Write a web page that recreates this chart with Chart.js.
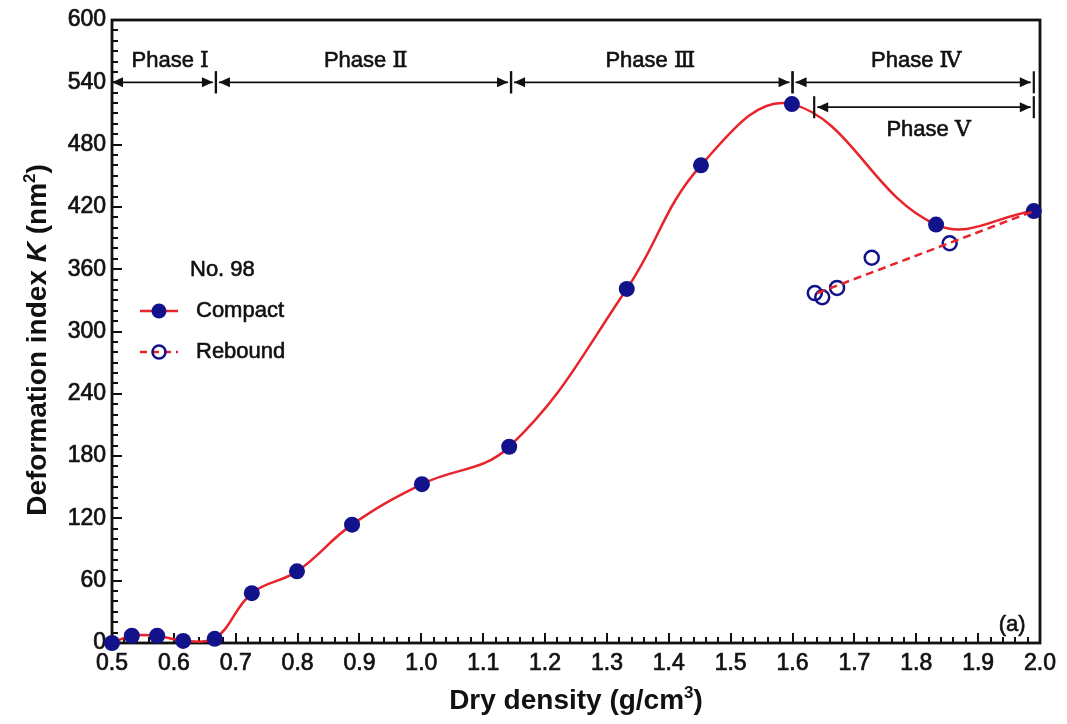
<!DOCTYPE html>
<html>
<head>
<meta charset="utf-8">
<script src="https://cdn.jsdelivr.net/npm/chart.js@4/dist/chart.umd.min.js"></script>
<style>
  html, body { margin:0; padding:0; background:#fff; }
  canvas { display:block; }
</style>
</head>
<body>
<canvas id="chart" width="1067" height="724"></canvas>
<script>
// ------------------- Data -------------------
const densityCompact = [0.50, 0.532, 0.573, 0.615, 0.666, 0.726, 0.799, 0.888, 1.001, 1.142, 1.332, 1.452, 1.599, 1.832, 1.99];
const kCompact       = [0,    7,     7,     2,     4,     48,    69,    114,   153,   189,   341,   460,   519,   403,   416];
const densityRebound = [1.636, 1.648, 1.672, 1.728, 1.854];
const kRebound       = [337,   333,   342,   371,   385];
const densityFit     = [1.64, 1.99];
const kFit           = [337,  416];

const xTicks = [0.5,0.6,0.7,0.8,0.9,1.0,1.1,1.2,1.3,1.4,1.5,1.6,1.7,1.8,1.9,2.0];
const yTicks = [0,60,120,180,240,300,360,420,480,540,600];

const phaseNames = ["Phase \u2160", "Phase \u2161", "Phase \u2162", "Phase \u2163", "Phase \u2164"];
const phaseFrom  = [0.5,  0.668, 1.145, 1.6,  1.635];
const phaseTo    = [0.668, 1.145, 1.6,  1.99, 1.99];
const phaseLevel = [540,  540,   540,   540,  516];

// ------------------- Styles -------------------
const RED = "#e8232b";
const NAVY = "#12128a";
const INK = "#111";
const FONT = "'Liberation Sans', Arial, Helvetica, sans-serif";
const PHASE_FONT = "22px 'Liberation Sans', Arial, 'DejaVu Serif', serif";

const toPts = (xs, ys) => xs.map((x,i)=>({x, y: ys[i]}));

// filled text with a hairline stroke so it reads a little heavier
function heavyText(ctx, t, x, y, w){
  ctx.fillText(t, x, y);
  ctx.lineWidth = w || 0.6;
  ctx.strokeText(t, x, y);
}

// draw a run of text pieces centred on (x,y)
function drawPieces(ctx, pieces, x, y){
  let w = 0;
  pieces.forEach(p=>{ ctx.font = p.font; w += ctx.measureText(p.t).width; });
  let cx = x - w/2;
  pieces.forEach(p=>{
    ctx.font = p.font;
    ctx.fillText(p.t, cx, y + (p.dy||0));
    cx += ctx.measureText(p.t).width;
  });
}

function arrowHead(ctx, x, y, dir){
  // dir = -1 points left, +1 points right; tip at x
  ctx.beginPath();
  ctx.moveTo(x, y);
  ctx.lineTo(x - dir*11, y - 5);
  ctx.lineTo(x - dir*11, y + 5);
  ctx.closePath();
  ctx.fill();
}

const decor = {
  id: "decor",
  beforeDatasetsDraw(chart){
    const {ctx, chartArea:a, scales:{x, y}} = chart;
    ctx.save();
    ctx.strokeStyle = INK;
    // inward ticks
    ctx.lineWidth = 2;
    for(let i=0;i<=75;i++){
      const v = 0.5 + i*0.02;
      const px = Math.round(x.getPixelForValue(v));
      const len = (i%5===0) ? 10 : 6;
      ctx.beginPath(); ctx.moveTo(px, a.bottom); ctx.lineTo(px, a.bottom-len); ctx.stroke();
    }
    for(let i=0;i<=60;i++){
      const v = i*10;
      const py = Math.round(y.getPixelForValue(v));
      const len = (i%6===0) ? 10 : 6;
      ctx.beginPath(); ctx.moveTo(a.left, py); ctx.lineTo(a.left+len, py); ctx.stroke();
    }
    // frame
    ctx.lineWidth = 2.8;
    ctx.strokeRect(a.left, a.top, a.right-a.left, a.bottom-a.top);
    ctx.restore();
  },
  afterDatasetsDraw(chart){
    const {ctx, chartArea:a, scales:{x, y}} = chart;
    ctx.save();
    ctx.fillStyle = INK;
    ctx.strokeStyle = INK;
    ctx.lineWidth = 1.8;

    // phase arrows
    phaseNames.forEach((name,i)=>{
      const x1 = x.getPixelForValue(phaseFrom[i]);
      const x2 = x.getPixelForValue(phaseTo[i]);
      const py = y.getPixelForValue(phaseLevel[i]);
      const g1 = i===0 ? 0 : 3;
      const g2 = 3;
      ctx.lineWidth = 1.8;
      ctx.beginPath(); ctx.moveTo(x1+g1, py); ctx.lineTo(x2-g2, py); ctx.stroke();
      arrowHead(ctx, x1+g1, py, -1);
      arrowHead(ctx, x2-g2, py, 1);
      // end bars
      ctx.lineWidth = 2.2;
      [x1, x2].forEach((bx,k)=>{
        if(i===0 && k===0) return;
        ctx.beginPath(); ctx.moveTo(bx, py-11); ctx.lineTo(bx, py+11); ctx.stroke();
      });
    });

    // phase labels
    ctx.font = PHASE_FONT;
    ctx.textAlign = "center";
    ctx.textBaseline = "middle";
    const lbl = [[0.594,561],[0.91,561],[1.37,561],[1.8,561],[1.82,494]];
    phaseNames.forEach((name,i)=>{
      heavyText(ctx, name, x.getPixelForValue(lbl[i][0]), y.getPixelForValue(lbl[i][1]));
    });

    // panel tag
    ctx.font = "22px " + FONT;
    heavyText(ctx, "(a)", x.getPixelForValue(1.955), y.getPixelForValue(17));

    // legend
    const lx = 140, ly = 270;
    ctx.textAlign = "left";
    heavyText(ctx, "No. 98", 190, ly);
    heavyText(ctx, "Compact", 196, ly+41);
    heavyText(ctx, "Rebound", 196, ly+82);
    ctx.lineWidth = 2.5;
    ctx.strokeStyle = RED;
    ctx.beginPath(); ctx.moveTo(lx, ly+41); ctx.lineTo(lx+38, ly+41); ctx.stroke();
    ctx.setLineDash([7,5]);
    ctx.beginPath(); ctx.moveTo(lx, ly+82); ctx.lineTo(lx+38, ly+82); ctx.stroke();
    ctx.setLineDash([]);
    ctx.fillStyle = NAVY;
    ctx.beginPath(); ctx.arc(lx+19, ly+41, 7.5, 0, Math.PI*2); ctx.fill();
    ctx.strokeStyle = NAVY;
    ctx.beginPath(); ctx.arc(lx+19, ly+82, 6.5, 0, Math.PI*2); ctx.stroke();

    // axis titles
    ctx.fillStyle = INK;
    ctx.textAlign = "left";
    ctx.textBaseline = "alphabetic";
    const tf = "bold 28px " + FONT;
    const sf = "bold 17px " + FONT;
    drawPieces(ctx, [
      {t:"Dry density (g/cm", font:tf},
      {t:"3", font:sf, dy:-11},
      {t:")", font:tf}
    ], (a.left+a.right)/2, 709);

    ctx.translate(46, 340);
    ctx.rotate(-Math.PI/2);
    drawPieces(ctx, [
      {t:"Deformation index ", font:tf},
      {t:"K", font:"italic " + tf},
      {t:" (nm", font:tf},
      {t:"2", font:sf, dy:-11},
      {t:")", font:tf}
    ], 0, 0);
    ctx.restore();
  }
};

const tickFont = { family: FONT, size: 23 };

new Chart(document.getElementById("chart"), {
  type: "scatter",
  data: {
    datasets: [
      {
        label: "Compact fit",
        data: toPts(densityFit, kFit),
        showLine: true,
        borderColor: RED,
        borderWidth: 2.5,
        borderDash: [8,5],
        pointRadius: 0,
        clip: false
      },
      {
        label: "Compact",
        data: toPts(densityCompact, kCompact),
        showLine: true,
        tension: 0.4,
        borderColor: RED,
        borderWidth: 2.5,
        pointRadius: 8,
        pointBackgroundColor: NAVY,
        pointBorderColor: NAVY,
        pointBorderWidth: 0,
        clip: false
      },
      {
        label: "Rebound",
        data: toPts(densityRebound, kRebound),
        showLine: false,
        pointRadius: 7,
        pointBackgroundColor: "rgba(255,255,255,0)",
        pointBorderColor: NAVY,
        pointBorderWidth: 2.5,
        clip: false
      }
    ]
  },
  options: {
    responsive: false,
    animation: false,
    layout: { padding: { top: 20, right: 27, left: 0, bottom: 0 } },
    plugins: { legend: { display: false }, tooltip: { enabled: false } },
    scales: {
      x: {
        type: "linear",
        min: 0.5, max: 2.0,
        afterBuildTicks: s => { s.ticks = xTicks.map(v=>({value:v})); },
        afterFit: s => { s.height = 81; },
        grid: { display: false, drawTicks: false },
        border: { display: false },
        ticks: {
          padding: 7,
          maxRotation: 0,
          autoSkip: false,
          color: INK,
          textStrokeColor: INK,
          textStrokeWidth: 0.7,
          font: tickFont,
          callback: v => v.toFixed(1)
        }
      },
      y: {
        min: 0, max: 600,
        afterBuildTicks: s => { s.ticks = yTicks.map(v=>({value:v})); },
        afterFit: s => { s.width = 112; },
        grid: { display: false, drawTicks: false },
        border: { display: false },
        ticks: {
          padding: 6,
          color: INK,
          textStrokeColor: INK,
          textStrokeWidth: 0.7,
          font: tickFont
        }
      }
    }
  },
  plugins: [decor]
});
</script>
</body>
</html>
